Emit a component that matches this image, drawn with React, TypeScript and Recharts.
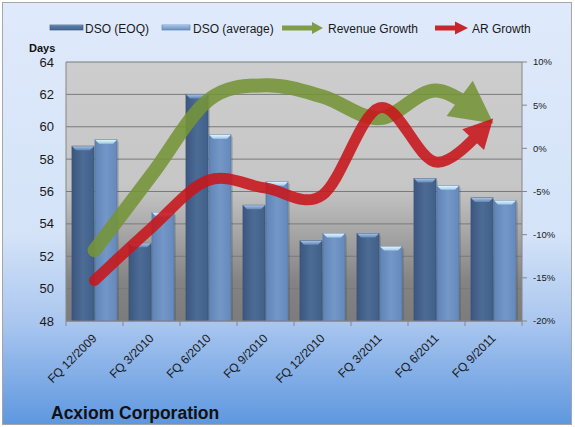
import React from 'react';
import { ComposedChart, Bar, Line, XAxis, YAxis, CartesianGrid } from 'recharts';

// ---------- data ----------
const categories = ['FQ 12/2009', 'FQ 3/2010', 'FQ 6/2010', 'FQ 9/2010', 'FQ 12/2010', 'FQ 3/2011', 'FQ 6/2011', 'FQ 9/2011'];
const dsoEoq = [58.8, 52.8, 62.0, 55.15, 52.95, 53.4, 56.8, 55.6];
const dsoAvg = [59.2, 54.7, 59.5, 56.6, 53.4, 52.6, 56.35, 55.45];
const revenueGrowth = [-11.8, -3.1, 5.6, 7.3, 6.0, 3.5, 6.7, 2.9];
const arGrowth = [-15.3, -9.2, -3.7, -4.6, -5.4, 4.7, -1.6, 3.4];
const daysTicks = [48, 50, 52, 54, 56, 58, 60, 62, 64];
const pctTicks = [-20, -15, -10, -5, 0, 5, 10];

const data = categories.map((c, i) => ({
  category: c,
  eoq: dsoEoq[i],
  avg: dsoAvg[i],
  rev: revenueGrowth[i],
  ar: arGrowth[i],
}));

// ---------- layout ----------
const W = 575;
const H = 427;
const PLOT_LEFT = 66;
const PLOT_RIGHT = 522;
const PLOT_TOP = 62;
const PLOT_BOTTOM = 321;
const BAND = (PLOT_RIGHT - PLOT_LEFT) / categories.length;
const FONT = '"Liberation Sans", Arial, sans-serif';

const GREEN = '#759538';
const RED = '#c8161b';
const G_LEN = 42, G_W = 44, G_TRIM = 22;
const R_LEN = 29, R_W = 30, R_TRIM = 16;

// Catmull-Rom style smoothing (like Excel "smoothed line"), with the end trimmed for an arrowhead
function smoothCurve(trim: number) {
  return (context: any) => {
    let xs: number[] = [];
    let ys: number[] = [];
    return {
      areaStart() {},
      areaEnd() {},
      lineStart() { xs = []; ys = []; },
      point(x: number, y: number) { xs.push(+x); ys.push(+y); },
      lineEnd() {
        const n = xs.length;
        if (!n) return;
        context.moveTo(xs[0], ys[0]);
        for (let i = 0; i < n - 1; i++) {
          const x0 = xs[Math.max(i - 1, 0)], y0 = ys[Math.max(i - 1, 0)];
          const x1 = xs[i], y1 = ys[i], x2 = xs[i + 1], y2 = ys[i + 1];
          const x3 = xs[Math.min(i + 2, n - 1)], y3 = ys[Math.min(i + 2, n - 1)];
          const c1x = x1 + (x2 - x0) / 6, c1y = y1 + (y2 - y0) / 6;
          const c2x = x2 - (x3 - x1) / 6, c2y = y2 - (y3 - y1) / 6;
          if (i === n - 2 && trim > 0) {
            const bez = (t: number) => {
              const u = 1 - t;
              return [
                u * u * u * x1 + 3 * u * u * t * c1x + 3 * u * t * t * c2x + t * t * t * x2,
                u * u * u * y1 + 3 * u * u * t * c1y + 3 * u * t * t * c2y + t * t * t * y2,
              ];
            };
            let lo = 0, hi = 1;
            for (let k = 0; k < 40; k++) {
              const m = (lo + hi) / 2;
              const p = bez(m);
              const d = Math.hypot(p[0] - x2, p[1] - y2);
              if (d > trim) lo = m; else hi = m;
            }
            const t = (lo + hi) / 2;
            const lerp = (a: number, b: number) => a + (b - a) * t;
            const p01x = lerp(x1, c1x), p01y = lerp(y1, c1y);
            const p12x = lerp(c1x, c2x), p12y = lerp(c1y, c2y);
            const p23x = lerp(c2x, x2), p23y = lerp(c2y, y2);
            const p012x = lerp(p01x, p12x), p012y = lerp(p01y, p12y);
            const p123x = lerp(p12x, p23x), p123y = lerp(p12y, p23y);
            const ex = lerp(p012x, p123x), ey = lerp(p012y, p123y);
            context.bezierCurveTo(p01x, p01y, p012x, p012y, ex, ey);
          } else {
            context.bezierCurveTo(c1x, c1y, c2x, c2y, x2, y2);
          }
        }
      },
    };
  };
}

const greenCurve = smoothCurve(G_TRIM);
const redCurve = smoothCurve(R_TRIM);

const BevelBar = (props: any) => {
  const { x, y, width, height, variant } = props;
  if (!height || height <= 0) return null;
  const b = Math.min(4, width / 4);
  const isEoq = variant === 'eoq';
  return (
    <g>
      <rect x={x + 2} y={y + 2} width={width} height={height - 2} fill="rgba(0,0,0,0.12)" />
      <rect x={x} y={y} width={width} height={height} fill={isEoq ? 'url(#gEoq)' : 'url(#gAvg)'}
        stroke={isEoq ? '#3a5378' : '#5878a4'} strokeWidth={0.8} />
      <polygon
        points={`${x},${y} ${x + width},${y} ${x + width - b},${y + b} ${x + b},${y + b}`}
        fill={isEoq ? 'url(#gEoqTop)' : 'url(#gAvgTop)'}
      />
    </g>
  );
};

const XTick = (props: any) => {
  const { x, y, payload, index } = props;
  const half = BAND / 2;
  const ax = x + 3;
  const ay = y + 18;
  return (
    <g>
      <line x1={x - half} x2={x - half} y1={y} y2={y + 5} stroke="#868686" />
      {index === categories.length - 1 && (
        <line x1={x + half} x2={x + half} y1={y} y2={y + 5} stroke="#868686" />
      )}
      <text x={ax} y={ay} textAnchor="end" transform={`rotate(-45 ${ax} ${ay})`}
        fontSize={12} fontFamily={FONT} fill="#1a1a1a">
        {payload.value}
      </text>
    </g>
  );
};

const LegendArrow = ({ x, y, len, head, headLen, shaft, color }: any) => (
  <g>
    <rect x={x} y={y - shaft / 2} width={len - headLen + 1} height={shaft} fill={color} />
    <path d={`M ${x + len} ${y} L ${x + len - headLen} ${y - head / 2} L ${x + len - headLen} ${y + head / 2} Z`} fill={color} />
  </g>
);

export default function App() {
  return (
    <div style={{ position: 'absolute', left: 0, top: 0, width: W, height: H, background: '#ffffff' }}>
      <style>{`
        .lineG { opacity: 0.88; }
        .lineG .recharts-line-curve { marker-end: url(#arrowG); }
        .lineR { opacity: 0.88; }
        .lineR .recharts-line-curve { marker-end: url(#arrowR); }
      `}</style>
      <svg width={W} height={H} style={{ position: 'absolute', left: 0, top: 0 }}>
        <defs>
          <linearGradient id="bgGrad" x1="0" y1="0" x2="0" y2="1">
            <stop offset="0" stopColor="#dfeafb" />
            <stop offset="0.55" stopColor="#d4e3f8" />
            <stop offset="0.76" stopColor="#a9c6ef" />
            <stop offset="1" stopColor="#5e97df" />
          </linearGradient>
          <linearGradient id="plotBg" x1="0" y1="0" x2="0" y2="1">
            <stop offset="0" stopColor="#cdcdcd" />
            <stop offset="0.48" stopColor="#c6c6c6" />
            <stop offset="0.62" stopColor="#adadad" />
            <stop offset="0.85" stopColor="#838383" />
            <stop offset="1" stopColor="#7c7c7c" />
          </linearGradient>
          <linearGradient id="gEoq" x1="0" y1="0" x2="1" y2="0">
            <stop offset="0" stopColor="#3c5780" />
            <stop offset="0.5" stopColor="#4c6b95" />
            <stop offset="1" stopColor="#40608a" />
          </linearGradient>
          <linearGradient id="gAvg" x1="0" y1="0" x2="1" y2="0">
            <stop offset="0" stopColor="#5f84b5" />
            <stop offset="0.5" stopColor="#7398c8" />
            <stop offset="1" stopColor="#6589ba" />
          </linearGradient>
          <linearGradient id="gEoqTop" x1="0" y1="0" x2="0" y2="1">
            <stop offset="0" stopColor="#a3c4e8" />
            <stop offset="1" stopColor="#6486b4" />
          </linearGradient>
          <linearGradient id="gAvgTop" x1="0" y1="0" x2="0" y2="1">
            <stop offset="0" stopColor="#e2f5fd" />
            <stop offset="1" stopColor="#a2c9ec" />
          </linearGradient>
          <linearGradient id="legEoq" x1="0" y1="0" x2="0" y2="1">
            <stop offset="0" stopColor="#8fb0d8" />
            <stop offset="0.3" stopColor="#5677a3" />
            <stop offset="1" stopColor="#45648e" />
          </linearGradient>
          <linearGradient id="legAvg" x1="0" y1="0" x2="0" y2="1">
            <stop offset="0" stopColor="#e0f3fd" />
            <stop offset="0.3" stopColor="#8fb4de" />
            <stop offset="1" stopColor="#6d92c3" />
          </linearGradient>
          <marker id="arrowG" markerUnits="userSpaceOnUse" markerWidth={120} markerHeight={120}
            viewBox="-60 -60 120 120" refX={0} refY={0} orient="auto" style={{ overflow: 'visible' }}>
            <path d={`M ${G_TRIM} 0 L ${G_TRIM - G_LEN} ${-G_W / 2} L ${G_TRIM - G_LEN} ${G_W / 2} Z`} fill={GREEN} />
          </marker>
          <marker id="arrowR" markerUnits="userSpaceOnUse" markerWidth={120} markerHeight={120}
            viewBox="-60 -60 120 120" refX={0} refY={0} orient="auto" style={{ overflow: 'visible' }}>
            <path d={`M ${R_TRIM} 0 L ${R_TRIM - R_LEN} ${-R_W / 2} L ${R_TRIM - R_LEN} ${R_W / 2} Z`} fill={RED} />
          </marker>
        </defs>
        <rect x={2.5} y={2.5} width={569} height={422} fill="url(#bgGrad)" stroke="#a6a6a6" strokeWidth={1} />
        {/* legend */}
        <rect x={50} y={25} width={33} height={5} fill="url(#legEoq)" stroke="#3e5c85" strokeWidth={0.7} />
        <text x={85} y={32.5} fontSize={12} fontFamily={FONT} fill="#1a1a1a">DSO (EOQ)</text>
        <rect x={162} y={25} width={28} height={5} fill="url(#legAvg)" stroke="#5f83b3" strokeWidth={0.7} />
        <text x={193} y={32.5} fontSize={12} fontFamily={FONT} fill="#1a1a1a">DSO (average)</text>
        <LegendArrow x={282} y={28} len={41} head={12} headLen={11} shaft={5} color="#7f9c47" />
        <text x={328} y={32.5} fontSize={12} fontFamily={FONT} fill="#1a1a1a">Revenue Growth</text>
        <LegendArrow x={435} y={28} len={33} head={13} headLen={13} shaft={5} color="#c9262b" />
        <text x={472} y={32.5} fontSize={12} fontFamily={FONT} fill="#1a1a1a">AR Growth</text>
        {/* axis title */}
        <text x={29} y={51.5} fontSize={11} fontWeight="bold" fontFamily={FONT} fill="#111">Days</text>
        {/* chart title */}
        <text x={51} y={419} fontSize={17.5} fontWeight="bold" fontFamily={FONT} fill="#111">Acxiom Corporation</text>
      </svg>
      <div style={{ position: 'absolute', left: 0, top: 0 }}>
        <ComposedChart
          width={W}
          height={H}
          data={data}
          margin={{ top: PLOT_TOP, right: 0, bottom: 0, left: 0 }}
          barCategoryGap={6}
          barGap={1}
        >
          <CartesianGrid yAxisId="left" horizontal vertical={false} fill="url(#plotBg)" fillOpacity={1}
            stroke="#7a7a7a" strokeWidth={1} />
          <XAxis dataKey="category" height={H - PLOT_BOTTOM} interval={0} tickLine={false} tickSize={0}
            tickMargin={0} axisLine={{ stroke: '#868686' }} tick={<XTick />} />
          <YAxis yAxisId="left" orientation="left" width={PLOT_LEFT} domain={[48, 64]} ticks={daysTicks}
            allowDataOverflow tickLine={false} tickSize={0} tickMargin={12} axisLine={{ stroke: '#868686' }}
            tick={{ fontSize: 13, fontFamily: FONT, fill: '#1a1a1a' }} />
          <YAxis yAxisId="right" orientation="right" width={W - PLOT_RIGHT} domain={[-20, 10]} ticks={pctTicks}
            allowDataOverflow tickFormatter={(v: number) => `${v}%`} tickSize={5} tickMargin={6}
            tickLine={{ stroke: '#868686' }} axisLine={{ stroke: '#868686' }}
            tick={{ fontSize: 9.5, fontFamily: FONT, fill: '#1a1a1a' }} />
          <Bar yAxisId="left" dataKey="eoq" isAnimationActive={false}
            shape={(p: any) => <BevelBar {...p} variant="eoq" />} />
          <Bar yAxisId="left" dataKey="avg" isAnimationActive={false}
            shape={(p: any) => <BevelBar {...p} variant="avg" />} />
          <Line yAxisId="right" dataKey="rev" className="lineG" type={greenCurve as any} stroke={GREEN}
            strokeWidth={14} strokeLinecap="round" dot={false} activeDot={false} isAnimationActive={false} />
          <Line yAxisId="right" dataKey="ar" className="lineR" type={redCurve as any} stroke={RED}
            strokeWidth={11} strokeLinecap="round" dot={false} activeDot={false} isAnimationActive={false} />
        </ComposedChart>
      </div>
    </div>
  );
}
